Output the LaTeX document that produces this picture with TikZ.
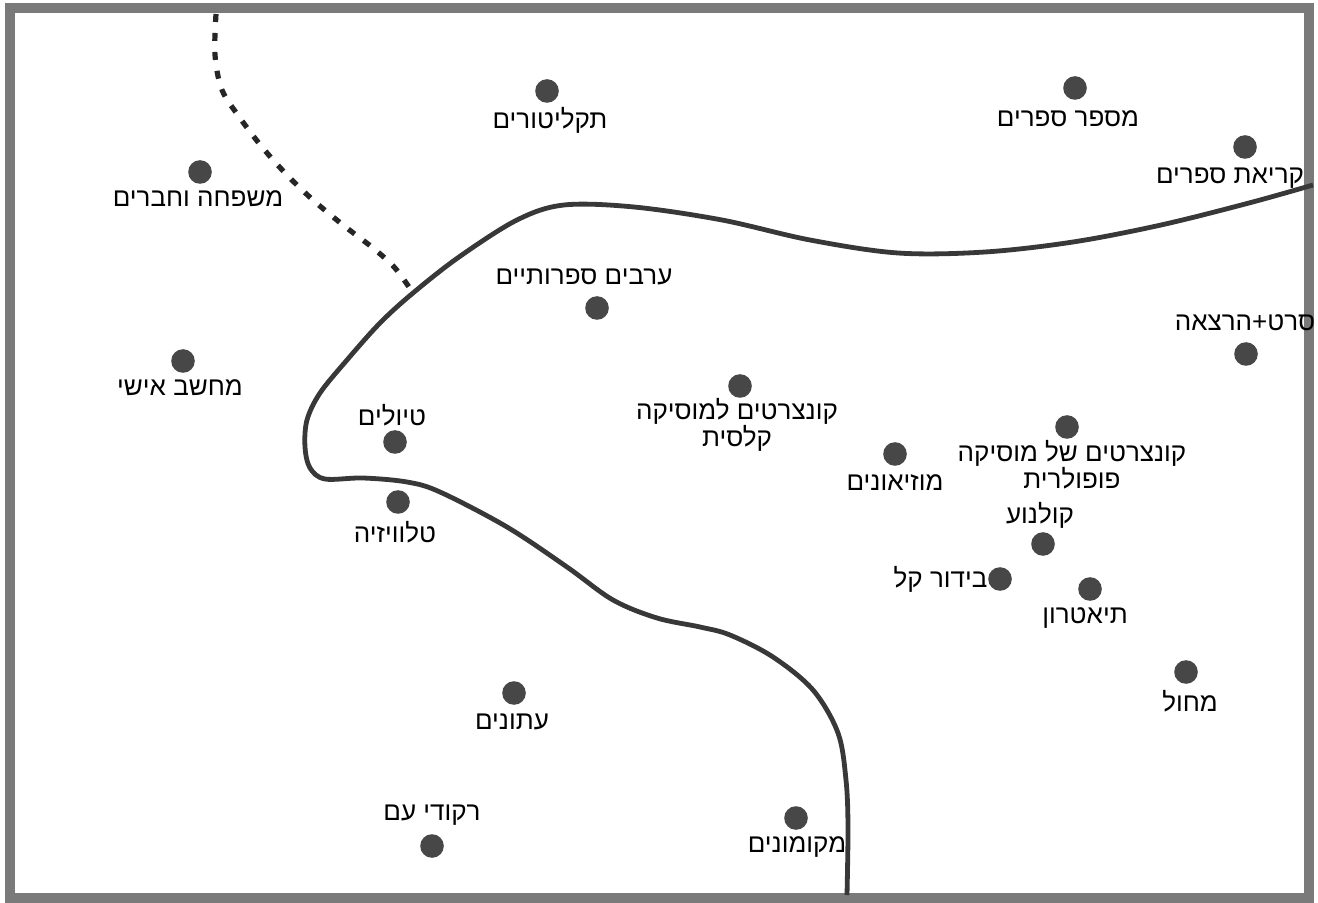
\documentclass[tikz,border=0pt]{standalone}
\usepackage{fontspec}
\setmainfont{Liberation Sans}
\newfontfamily\hebfont[Script=Hebrew]{Liberation Sans}
\TeXXeTstate=1
\begin{document}
\begin{tikzpicture}[x=0.5pt,y=-0.5pt,
  dot/.style={circle,fill=black!72,minimum size=11.8pt,inner sep=0pt},
  lbl/.style={font=\hebfont\fontsize{13}{13.5}\selectfont,inner sep=0pt,align=center,text=black},
  frame/.style={draw=black!52,line width=5pt},
  boundary/.style={draw=black!78,line width=2.4pt},
  border2/.style={draw=black!85,line width=2.6pt,dash pattern=on 4pt off 5.5pt}]
\useasboundingbox (0,0) rectangle (1318,903);
\draw[frame] (10,8) rectangle (1309,898);

% boundary curves
\draw[boundary] plot[smooth,tension=0.55] coordinates {(1313,185) (1249,203) (1161,225) (1073,242) (985,252) (898,253) (810,240) (722,220) (634,207) (564,205) (517,220) (459,257) (413,293) (380,323) (347,360) (320,393) (307,420) (305,447) (310,468) (325,479) (363,478) (407,482) (440,492) (507,527) (567,567) (613,600) (657,618) (700,627) (730,635) (773,657) (813,690) (838,733) (846,780) (848,827) (847,895)};
\draw[border2] plot[smooth,tension=0.55] coordinates {(216,14) (215,55) (222,90) (240,118) (262,147) (287,175) (313,200) (343,225) (373,248) (395,268) (413,293)};

% items
\node[dot] (d1) at (547,91) {};
\node[lbl] (l1) at (550,120) {\beginR תקליטורים\endR};
\node[dot] (d2) at (1075,88) {};
\node[lbl] (l2) at (1068,119) {\beginR מספר ספרים\endR};
\node[dot] (d3) at (1245,147) {};
\node[lbl] (l3) at (1230,178) {\beginR קריאת ספרים\endR};
\node[dot] (d4) at (200,172) {};
\node[lbl] (l4) at (198,199) {\beginR משפחה וחברים\endR};
\node[dot] (d5) at (597,308) {};
\node[lbl] (l5) at (584,277) {\beginR ערבים ספרותיים\endR};
\node[dot] (d6) at (1246,354) {};
\node[lbl] (l6) at (1245,323) {\beginR סרט+הרצאה\endR};
\node[dot] (d7) at (183,361) {};
\node[lbl] (l7) at (180,388) {\beginR מחשב אישי\endR};
\node[dot] (d8) at (740,386) {};
\node[lbl] (l8) at (737,425) {\beginR קונצרטים למוסיקה\endR\\\beginR קלסית\endR};
\node[dot] (d9) at (395,442) {};
\node[lbl] (l9) at (392,415) {\beginR טיולים\endR};
\node[dot] (d10) at (895,454) {};
\node[lbl] (l10) at (895,483) {\beginR מוזיאונים\endR};
\node[dot] (d11) at (1067,427) {};
\node[lbl] (l11) at (1072,465) {\beginR קונצרטים של מוסיקה\endR\\\beginR פופולרית\endR};
\node[dot] (d12) at (398,502) {};
\node[lbl] (l12) at (395,532) {\beginR טלוויזיה\endR};
\node[dot] (d13) at (1043,544) {};
\node[lbl] (l13) at (1040,515) {\beginR קולנוע\endR};
\node[dot] (d14) at (1000,579) {};
\node[lbl,anchor=east] (l14) at (d14.west) {\beginR בידור קל\endR};
\node[dot] (d15) at (1090,589) {};
\node[lbl] (l15) at (1085,618) {\beginR תיאטרון\endR};
\node[dot] (d16) at (1186,672) {};
\node[lbl] (l16) at (1190,701) {\beginR מחול\endR};
\node[dot] (d17) at (514,693) {};
\node[lbl] (l17) at (512,722) {\beginR עתונים\endR};
\node[dot] (d18) at (432,846) {};
\node[lbl] (l18) at (432,815) {\beginR רקודי עם\endR};
\node[dot] (d19) at (796,818) {};
\node[lbl] (l19) at (797,847) {\beginR מקומונים\endR};
\end{tikzpicture}
\end{document}
